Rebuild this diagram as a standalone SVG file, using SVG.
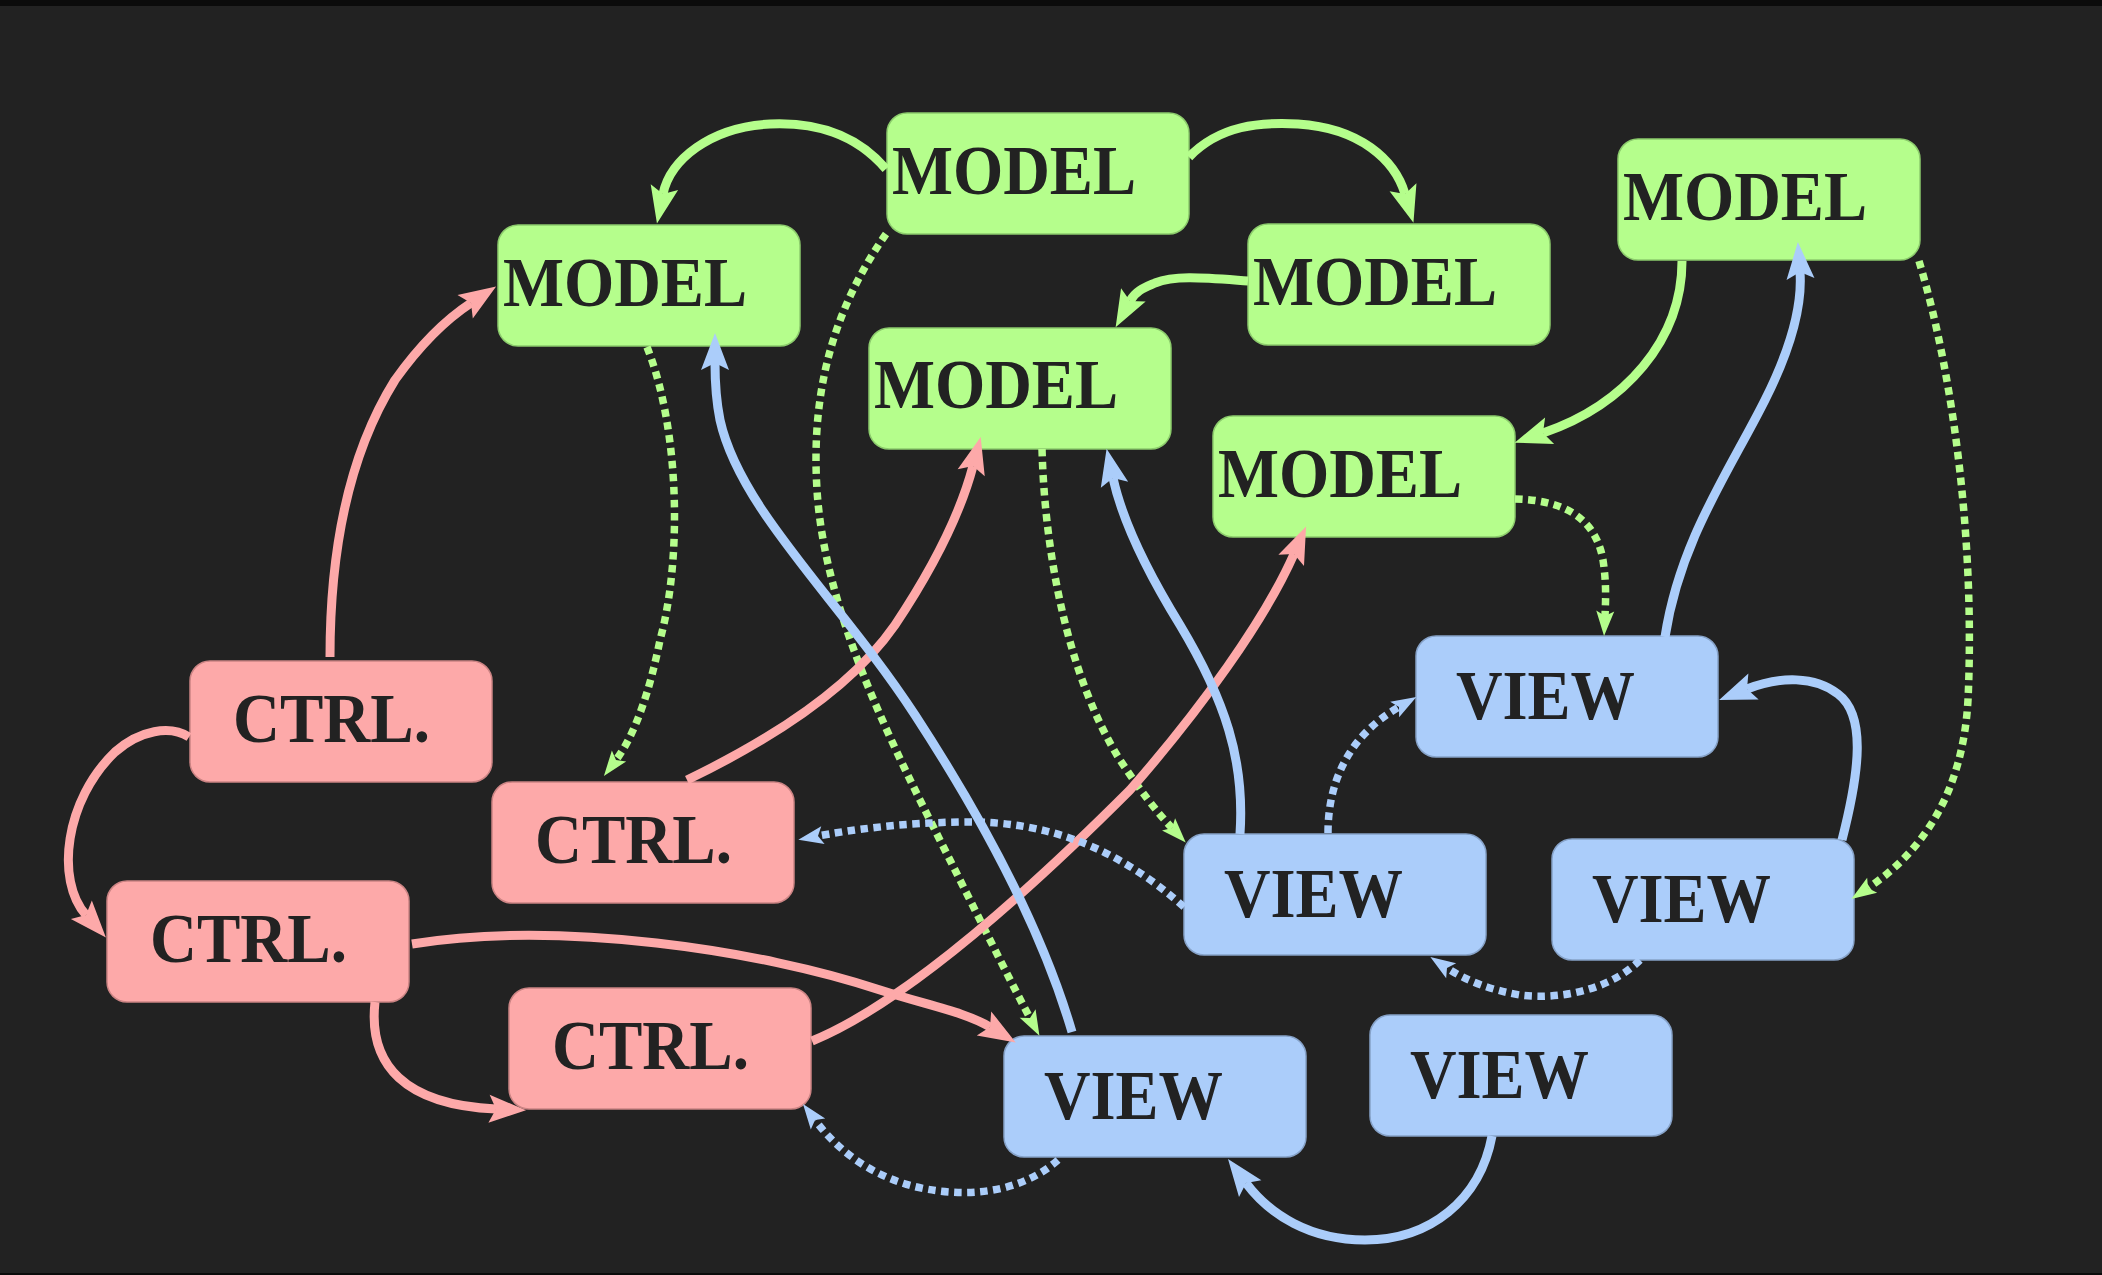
<svg xmlns="http://www.w3.org/2000/svg" width="2102" height="1275" viewBox="0 0 2102 1275">
<defs>
<style>
.bg{fill:#222222}
.m rect{fill:#b5fe8c;stroke:#8ccc6c;stroke-width:1.5}
.c rect{fill:#fda9a9;stroke:#cc8484;stroke-width:1.5}
.v rect{fill:#abcdfa;stroke:#86a2c8;stroke-width:1.5}
text{font-family:"Liberation Serif","Times New Roman",serif;font-weight:bold;font-size:69px;fill:#222222}
.e{fill:none;stroke-width:9}
.d{fill:none;stroke-width:7.5;stroke-dasharray:7.5 5.5}
.g{stroke:#b5fe8c}.p{stroke:#fda9a9}.b{stroke:#abcdfa}
</style>
<marker id="ag" markerUnits="userSpaceOnUse" orient="auto" overflow="visible" markerWidth="1" markerHeight="1" refX="0" refY="0"><path d="M30,0 L-7,-14 L0,0 L-7,14 Z" fill="#b5fe8c"/></marker>
<marker id="ap" markerUnits="userSpaceOnUse" orient="auto" overflow="visible" markerWidth="1" markerHeight="1" refX="0" refY="0"><path d="M30,0 L-7,-14 L0,0 L-7,14 Z" fill="#fda9a9"/></marker>
<marker id="ab" markerUnits="userSpaceOnUse" orient="auto" overflow="visible" markerWidth="1" markerHeight="1" refX="0" refY="0"><path d="M30,0 L-7,-14 L0,0 L-7,14 Z" fill="#abcdfa"/></marker>
<marker id="dg" markerUnits="userSpaceOnUse" orient="auto" overflow="visible" markerWidth="1" markerHeight="1" refX="0" refY="0"><path d="M20,0 L-5,-9 L0,0 L-5,9 Z" fill="#b5fe8c"/></marker>
<marker id="db" markerUnits="userSpaceOnUse" orient="auto" overflow="visible" markerWidth="1" markerHeight="1" refX="0" refY="0"><path d="M20,0 L-5,-9 L0,0 L-5,9 Z" fill="#abcdfa"/></marker>
</defs>
<rect class="bg" x="0" y="0" width="2102" height="1275"/>
<rect x="0" y="0" width="2102" height="6" fill="#0b0b0b"/>
<rect x="0" y="1273" width="2102" height="2" fill="#0b0b0b"/>

<g id="nodes">
<g id="model-a" class="m"><rect x="887" y="113" width="302" height="121" rx="20"/><text x="892" y="194" textLength="244" lengthAdjust="spacingAndGlyphs">MODEL</text></g>
<g id="model-b" class="m"><rect x="498" y="225" width="302" height="121" rx="20"/><text x="503" y="306" textLength="244" lengthAdjust="spacingAndGlyphs">MODEL</text></g>
<g id="model-c" class="m"><rect x="1248" y="224" width="302" height="121" rx="20"/><text x="1253" y="305" textLength="244" lengthAdjust="spacingAndGlyphs">MODEL</text></g>
<g id="model-d" class="m"><rect x="869" y="328" width="302" height="121" rx="20"/><text x="874" y="408" textLength="244" lengthAdjust="spacingAndGlyphs">MODEL</text></g>
<g id="model-e" class="m"><rect x="1213" y="416" width="302" height="121" rx="20"/><text x="1218" y="497" textLength="244" lengthAdjust="spacingAndGlyphs">MODEL</text></g>
<g id="model-f" class="m"><rect x="1618" y="139" width="302" height="121" rx="20"/><text x="1623" y="220" textLength="244" lengthAdjust="spacingAndGlyphs">MODEL</text></g>
<g id="ctrl-a" class="c"><rect x="190" y="661" width="302" height="121" rx="20"/><text x="233" y="742" textLength="197" lengthAdjust="spacingAndGlyphs">CTRL.</text></g>
<g id="ctrl-b" class="c"><rect x="492" y="782" width="302" height="121" rx="20"/><text x="535" y="863" textLength="197" lengthAdjust="spacingAndGlyphs">CTRL.</text></g>
<g id="ctrl-c" class="c"><rect x="107" y="881" width="302" height="121" rx="20"/><text x="150" y="962" textLength="197" lengthAdjust="spacingAndGlyphs">CTRL.</text></g>
<g id="ctrl-d" class="c"><rect x="509" y="988" width="302" height="121" rx="20"/><text x="552" y="1069" textLength="197" lengthAdjust="spacingAndGlyphs">CTRL.</text></g>
<g id="view-a" class="v"><rect x="1416" y="636" width="302" height="121" rx="20"/><text x="1456" y="719" textLength="179" lengthAdjust="spacingAndGlyphs">VIEW</text></g>
<g id="view-b" class="v"><rect x="1184" y="834" width="302" height="121" rx="20"/><text x="1224" y="917" textLength="179" lengthAdjust="spacingAndGlyphs">VIEW</text></g>
<g id="view-c" class="v"><rect x="1552" y="839" width="302" height="121" rx="20"/><text x="1592" y="922" textLength="179" lengthAdjust="spacingAndGlyphs">VIEW</text></g>
<g id="view-d" class="v"><rect x="1370" y="1015" width="302" height="121" rx="20"/><text x="1410" y="1098" textLength="179" lengthAdjust="spacingAndGlyphs">VIEW</text></g>
<g id="view-e" class="v"><rect x="1004" y="1036" width="302" height="121" rx="20"/><text x="1044" y="1119" textLength="179" lengthAdjust="spacingAndGlyphs">VIEW</text></g>
</g>

<g id="connectors">
<path class="e g" marker-end="url(#ag)" d="M886,169 C855,133 815,122 770,124 C710,127 670,160 663,194"/>
<path class="e g" marker-end="url(#ag)" d="M1189,157 C1220,125 1260,122 1298,124 C1360,128 1395,160 1405,194"/>
<path class="e g" marker-end="url(#ag)" d="M1248,281 C1205,278 1175,275 1155,283 C1146,287 1136,290 1130,301"/>
<path class="e g" marker-end="url(#ag)" d="M1682,261 C1682,340 1625,405 1543,433"/>
<path class="d g" marker-end="url(#dg)" d="M647,347 C680,430 682,560 660,640 C650,690 635,735 616,760"/>
<path class="d g" marker-end="url(#dg)" d="M886,234 C840,300 810,380 817,490 C825,620 900,760 960,880 C990,940 1015,990 1030,1018"/>
<path class="d g" marker-end="url(#dg)" d="M1042,449 C1045,560 1070,680 1120,760 C1140,790 1155,810 1172,828"/>
<path class="d g" marker-end="url(#dg)" d="M1515,499 C1560,500 1595,515 1603,560 C1606,580 1606,595 1605,616"/>
<path class="d g" marker-end="url(#dg)" d="M1919,261 C1955,380 1975,550 1968,700 C1963,790 1925,850 1868,888"/>
<path class="e p" marker-end="url(#ap)" d="M330,657 C330,560 345,460 395,380 C420,345 445,320 471,303"/>
<path class="e p" marker-end="url(#ap)" d="M189,737 C170,725 140,730 115,752 C65,800 55,880 86,915"/>
<path class="e p" marker-end="url(#ap)" d="M687,780 C770,740 850,690 895,625 C935,565 960,515 973,466"/>
<path class="e p" marker-end="url(#ap)" d="M412,944 C560,920 760,950 880,990 C930,1006 965,1012 990,1027"/>
<path class="e p" marker-end="url(#ap)" d="M375,1002 C368,1065 405,1105 496,1109"/>
<path class="e p" marker-end="url(#ap)" d="M812,1041 C900,1005 1020,900 1130,790 C1200,710 1265,620 1294,554"/>
<path class="e b" marker-end="url(#ab)" d="M1072,1032 C1045,940 990,830 915,715 C840,600 740,510 720,420 C716,400 715,385 715,363"/>
<path class="e b" marker-end="url(#ab)" d="M1240,834 C1245,760 1225,700 1180,625 C1140,560 1120,510 1113,478"/>
<path class="e b" marker-end="url(#ab)" d="M1665,637 C1680,540 1730,470 1765,400 C1795,340 1802,300 1800,272"/>
<path class="e b" marker-end="url(#ab)" d="M1842,840 C1860,770 1866,715 1838,694 C1815,676 1780,676 1747,689"/>
<path class="e b" marker-end="url(#ab)" d="M1492,1136 C1480,1200 1430,1240 1365,1240 C1310,1240 1270,1215 1246,1183"/>
<path class="d b" marker-end="url(#db)" d="M1184,907 C1120,850 1050,820 960,822 C900,823 850,830 818,836"/>
<path class="d b" marker-end="url(#db)" d="M1328,833 C1328,780 1350,735 1399,707"/>
<path class="d b" marker-end="url(#db)" d="M1640,960 C1610,990 1560,1000 1520,995 C1490,990 1465,980 1447,968"/>
<path class="d b" marker-end="url(#db)" d="M1058,1160 C1030,1185 990,1195 950,1192 C890,1188 845,1160 815,1120"/>
</g>
</svg>
